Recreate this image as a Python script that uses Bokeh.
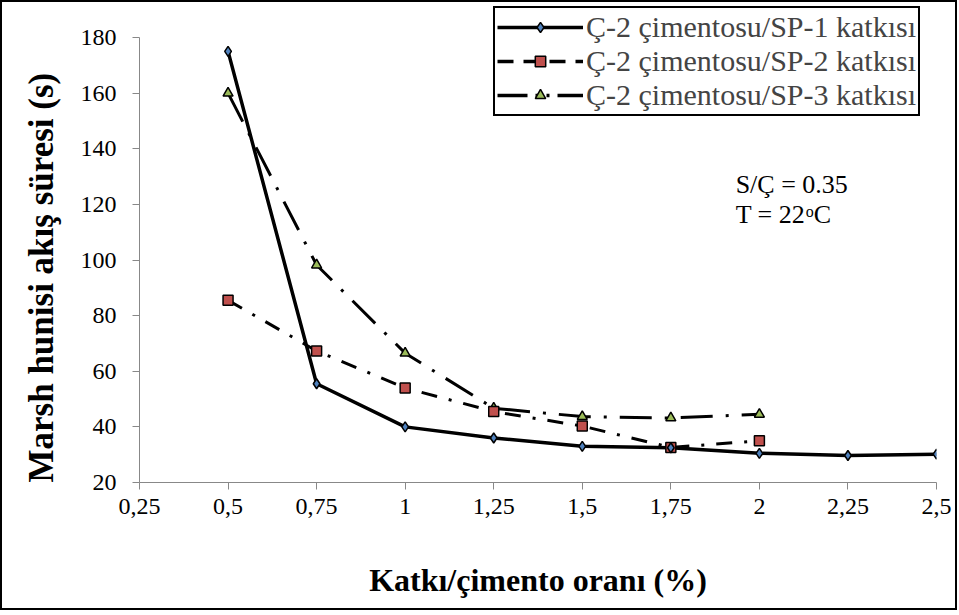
from bokeh.plotting import figure
from bokeh.models import (Legend, LegendItem, Label, FixedTicker, Range1d, ColumnDataSource,
                          CDSView, IndexFilter, Title)
from bokeh.embed import file_html
from bokeh.resources import INLINE

# ---- data ----
x_sp1 = [0.5, 0.75, 1.0, 1.25, 1.5, 1.75, 2.0, 2.25, 2.5]
y_sp1 = [175, 55.5, 40.0, 36.0, 33.0, 32.5, 30.5, 29.7, 30.2]
x_sp2 = [0.5, 0.75, 1.0, 1.25, 1.5, 1.75, 2.0]
y_sp2 = [85.5, 67.3, 54.0, 45.5, 40.3, 32.6, 35.0]
x_sp3 = [0.5, 0.75, 1.0, 1.25, 1.5, 1.75, 2.0]
y_sp3 = [160, 98.2, 66.5, 46.7, 43.7, 43.2, 44.5]

names = ["Ç-2 çimentosu/SP-1 katkısı", "Ç-2 çimentosu/SP-2 katkısı", "Ç-2 çimentosu/SP-3 katkısı"]
x_ticks = [0.25, 0.5, 0.75, 1.0, 1.25, 1.5, 1.75, 2.0, 2.25, 2.5]
x_tick_labels = ["0,25", "0,5", "0,75", "1", "1,25", "1,5", "1,75", "2", "2,25", "2,5"]
y_ticks = [20, 40, 60, 80, 100, 120, 140, 160, 180]

FONT = "Liberation Serif"
AX = "#888888"

# frame: x 139..936, y 4..482 (180 at y=37); headroom above 180 holds the legend
p = figure(width=957, height=610, output_backend="svg", toolbar_location=None,
           x_range=Range1d(0.25, 2.5), y_range=Range1d(20, 191.87),
           min_border_left=137, min_border_right=23, min_border_top=2, min_border_bottom=130)
p.styles = {"border": "2px solid black"}
p.outline_line_color = None
p.xgrid.visible = False
p.ygrid.visible = False

for ax in (p.xaxis[0], p.yaxis[0]):
    ax.axis_line_color = AX
    ax.major_tick_line_color = AX
    ax.minor_tick_line_color = None
    ax.major_tick_in = 0
    ax.major_tick_out = 7
    ax.major_label_text_font = FONT
    ax.major_label_text_font_size = "24px"
    ax.major_label_text_color = "black"
    ax.axis_label_text_font = FONT
    ax.axis_label_text_font_style = "bold"
    ax.axis_label_text_color = "black"

p.xaxis.ticker = FixedTicker(ticks=x_ticks)
p.xaxis.major_label_overrides = {t: l for t, l in zip(x_ticks, x_tick_labels)}
p.yaxis.ticker = FixedTicker(ticks=y_ticks)
p.yaxis.bounds = (20, 180)
p.xaxis.axis_label = "Katkı/çimento oranı (%)"
p.xaxis.axis_label_text_font_size = "32px"
p.xaxis.major_label_standoff = 9
p.yaxis.major_label_standoff = 16
p.xaxis.axis_label_standoff = 45

# y-axis title, starting at the bottom of the plot area
ytitle = Title(text="Marsh hunisi akış süresi (s)", align="left", vertical_align="bottom",
               offset=0, standoff=34, text_font=FONT, text_font_style="bold",
               text_font_size="35px", text_color="black")
p.add_layout(ytitle, "left")

s1 = ColumnDataSource(dict(x=x_sp1, y=y_sp1))
s2 = ColumnDataSource(dict(x=x_sp2, y=y_sp2))
s3 = ColumnDataSource(dict(x=x_sp3, y=y_sp3))

l3 = p.line("x", "y", source=s3, line_color="black", line_width=3, line_dash="32 13 3 13")
l2 = p.line("x", "y", source=s2, line_color="black", line_width=3, line_dash="16 12 3 12")
l1 = p.line("x", "y", source=s1, line_color="black", line_width=3.5)

m3 = p.scatter("x", "y", source=s3, marker="triangle", size=10, fill_color="#9BBB59",
               line_color="black", line_width=1.5)
m2 = p.scatter("x", "y", source=s2, marker="square", size=10, fill_color="#C0504D",
               line_color="black", line_width=1.5)
m1 = p.scatter("x", "y", source=s1, marker="diamond", size=10, fill_color="#4F81BD",
               line_color="black", line_width=1.5)

# legend-only line styles (a single point each: nothing visible in the plot)
lg1 = p.line("x", "y", source=s1, view=CDSView(filter=IndexFilter(indices=[0])),
             line_color="black", line_width=3.5)
lg2 = p.line("x", "y", source=s2, view=CDSView(filter=IndexFilter(indices=[0])),
             line_color="black", line_width=3.5, line_dash="16 10")
lg3 = p.line("x", "y", source=s3, view=CDSView(filter=IndexFilter(indices=[0])),
             line_color="black", line_width=3.5, line_dash="30 8 3 8 3 8")

legend = Legend(items=[LegendItem(label=names[0], renderers=[lg1, m1]),
                       LegendItem(label=names[1], renderers=[lg2, m2]),
                       LegendItem(label=names[2], renderers=[lg3, m3])],
                location=(354, 366))
legend.border_line_color = "black"
legend.border_line_width = 2
legend.border_line_alpha = 1
legend.background_fill_alpha = 1
legend.label_text_font = FONT
legend.label_text_font_size = "30px"
legend.label_standoff = 3
legend.label_height = 26
legend.glyph_width = 86
legend.glyph_height = 26
legend.spacing = 0
legend.padding = 2
legend.margin = 0
p.add_layout(legend, "center")

lab_kw = dict(text_font=FONT, text_color="black", text_font_size="26px")
p.add_layout(Label(x=1.933, y=122.1, text="S/Ç = 0.35", **lab_kw))
p.add_layout(Label(x=1.933, y=111.3, text="T = 22", **lab_kw))
p.add_layout(Label(x=1.933, y=111.3, x_offset=70, y_offset=9, text="o", text_font=FONT,
                   text_color="black", text_font_size="16px"))
p.add_layout(Label(x=1.933, y=111.3, x_offset=78, text="C", **lab_kw))

open("out.html", "w").write(file_html(p, INLINE))
